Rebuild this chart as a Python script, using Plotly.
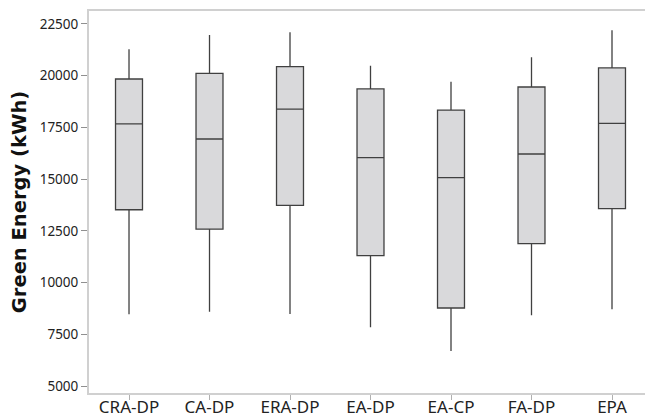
import plotly.graph_objects as go

# Green energy per placement policy (kWh): five-number summaries
policies = ["CRA-DP", "CA-DP", "ERA-DP", "EA-DP", "EA-CP", "FA-DP", "EPA"]
lower_whisker = [8470, 8590, 8480, 7840, 6690, 8420, 8710]
q1_values = [13520, 12580, 13735, 11300, 8770, 11880, 13570]
medians = [17670, 16940, 18380, 16040, 15070, 16215, 17700]
q3_values = [19840, 20115, 20435, 19360, 18340, 19455, 20375]
upper_whisker = [21280, 21970, 22100, 20485, 19710, 20890, 22195]

y_ticks = [5000, 7500, 10000, 12500, 15000, 17500, 20000, 22500]

fig = go.Figure()
fig.add_trace(go.Box(
    x=policies,
    q1=q1_values,
    median=medians,
    q3=q3_values,
    lowerfence=lower_whisker,
    upperfence=upper_whisker,
    width=0.335,
    whiskerwidth=0,
    fillcolor="#d9d9db",
    line=dict(color="#404040", width=1.3),
    boxpoints=False,
    hoverinfo="skip",
    showlegend=False,
))

fig.update_layout(
    width=646,
    height=417,
    margin=dict(l=89, r=1, t=11, b=24),
    paper_bgcolor="white",
    plot_bgcolor="white",
    font=dict(family="Noto Sans", color="#222222"),
    xaxis=dict(
        range=[-0.497, 6.41],
        automargin=False,
        showline=True,
        mirror=True,
        linecolor="#d0d0d0",
        linewidth=2,
        ticks="outside",
        ticklen=5,
        tickcolor="#b0b0b0",
        ticklabelstandoff=-7,
        tickfont=dict(size=17, color="#222222"),
        showgrid=False,
        zeroline=False,
        fixedrange=True,
    ),
    yaxis=dict(
        range=[4662, 23128],
        automargin=False,
        tickvals=y_ticks,
        ticktext=[str(v) for v in y_ticks],
        showline=True,
        linecolor="#d0d0d0",
        linewidth=2,
        ticks="outside",
        ticklen=6,
        tickcolor="#909090",
        tickfont=dict(size=13.5, color="#222222"),
        showgrid=False,
        zeroline=False,
        title=dict(
            text="<b>Green Energy (kWh)</b>",
            font=dict(family="DejaVu Sans", size=19.5, color="#111111"),
            standoff=8,
        ),
    ),
)

fig.write_html("out.html")
